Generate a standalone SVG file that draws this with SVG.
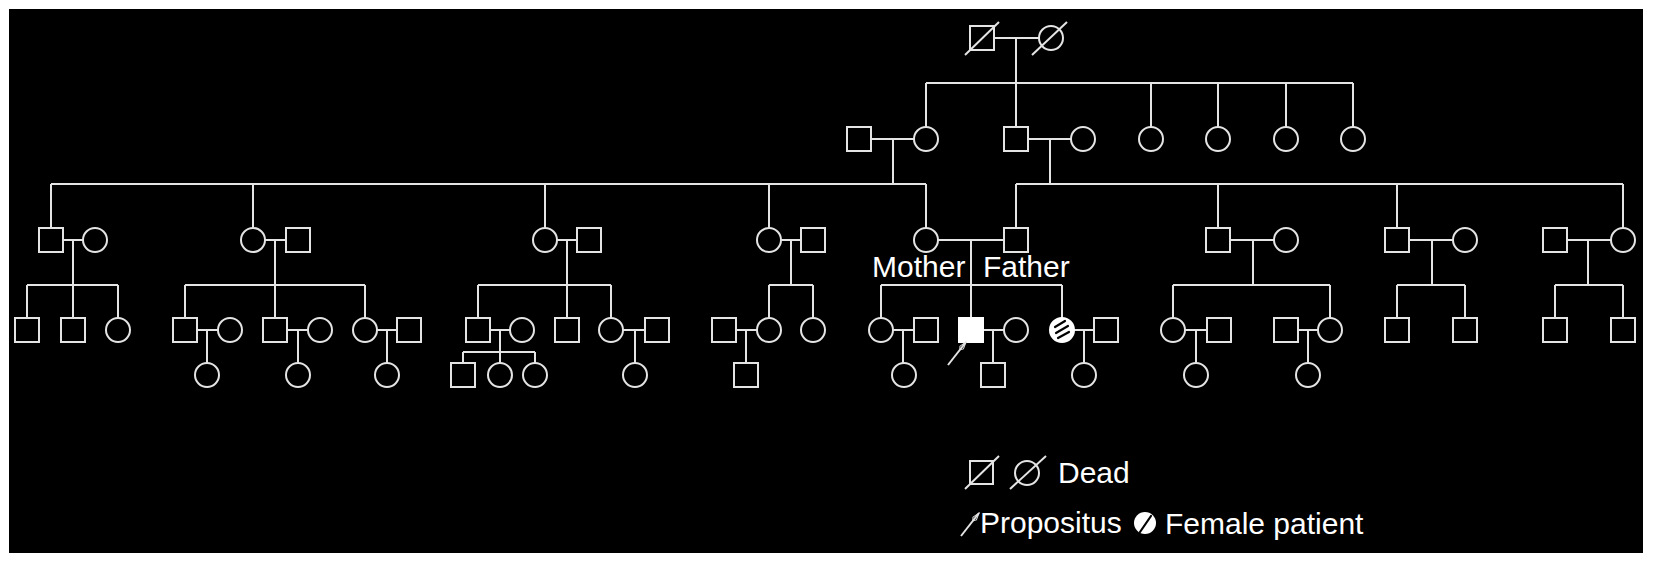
<svg xmlns="http://www.w3.org/2000/svg" width="1654" height="565" viewBox="0 0 1654 565">
<defs>
<style>
.bg{fill:#000}
.ln{fill:none;stroke:#e4e4e4;stroke-width:2}
.s{fill:#000;stroke:#e4e4e4;stroke-width:2}
.x{stroke:#e4e4e4;stroke-width:2}
.pf{fill:#fff;stroke:#fff;stroke-width:2}
.hs{stroke:#000;stroke-width:2.2;stroke-linecap:round}
.t{font-family:"Liberation Sans",Arial,sans-serif;font-size:30px;fill:#fff}
</style>
<rect id="sq" class="s" x="-12" y="-12" width="24" height="24"/>
<circle id="ci" class="s" r="12"/>
<marker id="arr" viewBox="0 0 12 6" refX="11" refY="3" markerWidth="12" markerHeight="6" markerUnits="userSpaceOnUse" orient="auto">
<path d="M1,3 L4,0.8 L11,3 L4,5.2 Z" fill="none" stroke="#e4e4e4" stroke-width="1"/>
</marker>
</defs>
<rect width="1654" height="565" fill="#fff"/>
<rect class="bg" x="9" y="9" width="1634" height="544"/>

<g id="connectors">
<path class="ln" d="M982,38 H1051 M1016,38 V127 M926,83 H1353 M926,83 V127 M1151,83 V127 M1218,83 V127 M1286,83 V127 M1353,83 V127"/>
<path class="ln" d="M859,139 H926 M893,139 V184 M1016,139 H1083 M1050,139 V184"/>
<path class="ln" d="M51,184 H926 M51,184 V228 M253,184 V228 M545,184 V228 M769,184 V228 M926,184 V228 M1016,184 H1623 M1016,184 V228 M1218,184 V228 M1397,184 V228 M1623,184 V228"/>
<path class="ln" d="M51,240 H95 M73,240 V318 M27,285 H118 M27,285 V318 M118,285 V318"/>
<path class="ln" d="M253,240 H298 M275,240 V318 M185,285 H365 M185,285 V318 M365,285 V318"/>
<path class="ln" d="M545,240 H589 M567,240 V318 M478,285 H611 M478,285 V318 M611,285 V318"/>
<path class="ln" d="M769,240 H813 M791,240 V285 M769,285 H813 M769,285 V318 M813,285 V318"/>
<path class="ln" d="M926,240 H1016 M971,240 V318 M881,285 H1062 M881,285 V318 M1062,285 V318"/>
<path class="ln" d="M1218,240 H1286 M1253,240 V285 M1173,285 H1330 M1173,285 V318 M1330,285 V318"/>
<path class="ln" d="M1397,240 H1465 M1432,240 V285 M1397,285 H1465 M1397,285 V318 M1465,285 V318"/>
<path class="ln" d="M1555,240 H1623 M1588,240 V285 M1555,285 H1623 M1555,285 V318 M1623,285 V318"/>
<path class="ln" d="M185,330 H230 M207,330 V363 M275,330 H320 M298,330 V363 M365,330 H409 M387,330 V363"/>
<path class="ln" d="M478,330 H522 M500,330 V363 M463,352 H535 M463,352 V363 M535,352 V363 M611,330 H657 M635,330 V363"/>
<path class="ln" d="M724,330 H769 M746,330 V363"/>
<path class="ln" d="M881,330 H926 M903,330 V363 M971,330 H1016 M993,330 V363 M1062,330 H1106 M1084,330 V363"/>
<path class="ln" d="M1173,330 H1219 M1196,330 V363 M1286,330 H1330 M1308,330 V363"/>
</g>

<!-- Generation I -->
<g id="g1_m"><use href="#sq" x="982" y="38"/><line class="x" x1="965" y1="55" x2="999" y2="22"/></g>
<g id="g1_f"><use href="#ci" x="1051" y="38"/><line class="x" x1="1032" y1="55" x2="1067" y2="22"/></g>

<!-- Generation II -->
<g id="g2_1"><use href="#sq" x="859" y="139"/></g>
<g id="g2_2"><use href="#ci" x="926" y="139"/></g>
<g id="g2_3"><use href="#sq" x="1016" y="139"/></g>
<g id="g2_4"><use href="#ci" x="1083" y="139"/></g>
<g id="g2_5"><use href="#ci" x="1151" y="139"/></g>
<g id="g2_6"><use href="#ci" x="1218" y="139"/></g>
<g id="g2_7"><use href="#ci" x="1286" y="139"/></g>
<g id="g2_8"><use href="#ci" x="1353" y="139"/></g>

<!-- Generation III -->
<g id="g3_1"><use href="#sq" x="51" y="240"/></g>
<g id="g3_2"><use href="#ci" x="95" y="240"/></g>
<g id="g3_3"><use href="#ci" x="253" y="240"/></g>
<g id="g3_4"><use href="#sq" x="298" y="240"/></g>
<g id="g3_5"><use href="#ci" x="545" y="240"/></g>
<g id="g3_6"><use href="#sq" x="589" y="240"/></g>
<g id="g3_7"><use href="#ci" x="769" y="240"/></g>
<g id="g3_8"><use href="#sq" x="813" y="240"/></g>
<g id="mother"><use href="#ci" x="926" y="240"/><text class="t" x="872" y="277">Mother</text></g>
<g id="father"><use href="#sq" x="1016" y="240"/><text class="t" x="983" y="277">Father</text></g>
<g id="g3_11"><use href="#sq" x="1218" y="240"/></g>
<g id="g3_12"><use href="#ci" x="1286" y="240"/></g>
<g id="g3_13"><use href="#sq" x="1397" y="240"/></g>
<g id="g3_14"><use href="#ci" x="1465" y="240"/></g>
<g id="g3_15"><use href="#sq" x="1555" y="240"/></g>
<g id="g3_16"><use href="#ci" x="1623" y="240"/></g>

<!-- Generation IV -->
<g id="g4_1"><use href="#sq" x="27" y="330"/></g>
<g id="g4_2"><use href="#sq" x="73" y="330"/></g>
<g id="g4_3"><use href="#ci" x="118" y="330"/></g>
<g id="g4_4"><use href="#sq" x="185" y="330"/></g>
<g id="g4_5"><use href="#ci" x="230" y="330"/></g>
<g id="g4_6"><use href="#sq" x="275" y="330"/></g>
<g id="g4_7"><use href="#ci" x="320" y="330"/></g>
<g id="g4_8"><use href="#ci" x="365" y="330"/></g>
<g id="g4_9"><use href="#sq" x="409" y="330"/></g>
<g id="g4_10"><use href="#sq" x="478" y="330"/></g>
<g id="g4_11"><use href="#ci" x="522" y="330"/></g>
<g id="g4_12"><use href="#sq" x="567" y="330"/></g>
<g id="g4_13"><use href="#ci" x="611" y="330"/></g>
<g id="g4_14"><use href="#sq" x="657" y="330"/></g>
<g id="g4_15"><use href="#sq" x="724" y="330"/></g>
<g id="g4_16"><use href="#ci" x="769" y="330"/></g>
<g id="g4_17"><use href="#ci" x="813" y="330"/></g>
<g id="g4_18"><use href="#ci" x="881" y="330"/></g>
<g id="g4_19"><use href="#sq" x="926" y="330"/></g>
<g id="propositus"><rect class="pf" x="959" y="318" width="24" height="24"/><line class="x" x1="948" y1="365" x2="966" y2="342" marker-end="url(#arr)"/></g>
<g id="g4_21"><use href="#ci" x="1016" y="330"/></g>
<g id="patient"><circle cx="1062" cy="330" r="12" fill="#fff" stroke="#fff" stroke-width="2"/><line class="hs" x1="1055" y1="327" x2="1065" y2="321"/><line class="hs" x1="1056" y1="333" x2="1068" y2="326"/><line class="hs" x1="1058" y1="338" x2="1069" y2="332"/></g>
<g id="g4_23"><use href="#sq" x="1106" y="330"/></g>
<g id="g4_24"><use href="#ci" x="1173" y="330"/></g>
<g id="g4_25"><use href="#sq" x="1219" y="330"/></g>
<g id="g4_26"><use href="#sq" x="1286" y="330"/></g>
<g id="g4_27"><use href="#ci" x="1330" y="330"/></g>
<g id="g4_28"><use href="#sq" x="1397" y="330"/></g>
<g id="g4_29"><use href="#sq" x="1465" y="330"/></g>
<g id="g4_30"><use href="#sq" x="1555" y="330"/></g>
<g id="g4_31"><use href="#sq" x="1623" y="330"/></g>

<!-- Generation V -->
<g id="g5_1"><use href="#ci" x="207" y="375"/></g>
<g id="g5_2"><use href="#ci" x="298" y="375"/></g>
<g id="g5_3"><use href="#ci" x="387" y="375"/></g>
<g id="g5_4"><use href="#sq" x="463" y="375"/></g>
<g id="g5_5"><use href="#ci" x="500" y="375"/></g>
<g id="g5_6"><use href="#ci" x="535" y="375"/></g>
<g id="g5_7"><use href="#ci" x="635" y="375"/></g>
<g id="g5_8"><use href="#sq" x="746" y="375"/></g>
<g id="g5_9"><use href="#ci" x="904" y="375"/></g>
<g id="g5_10"><use href="#sq" x="993" y="375"/></g>
<g id="g5_11"><use href="#ci" x="1084" y="375"/></g>
<g id="g5_12"><use href="#ci" x="1196" y="375"/></g>
<g id="g5_13"><use href="#ci" x="1308" y="375"/></g>

<!-- Legend -->
<g id="legend">
<rect class="s" x="970" y="461" width="23" height="23"/>
<line class="x" x1="965" y1="489" x2="999" y2="456"/>
<circle class="s" cx="1027" cy="473" r="12"/>
<line class="x" x1="1010" y1="489" x2="1046" y2="456"/>
<text class="t" x="1058" y="483">Dead</text>
<line class="x" x1="961" y1="536" x2="979" y2="513" marker-end="url(#arr)"/>
<text class="t" x="980" y="533">Propositus</text>
<circle cx="1145" cy="523" r="11" fill="#fff"/>
<line class="hs" x1="1140" y1="532" x2="1151" y2="516" stroke-width="2.5"/>
<text class="t" x="1165" y="534">Female patient</text>
</g>
</svg>
